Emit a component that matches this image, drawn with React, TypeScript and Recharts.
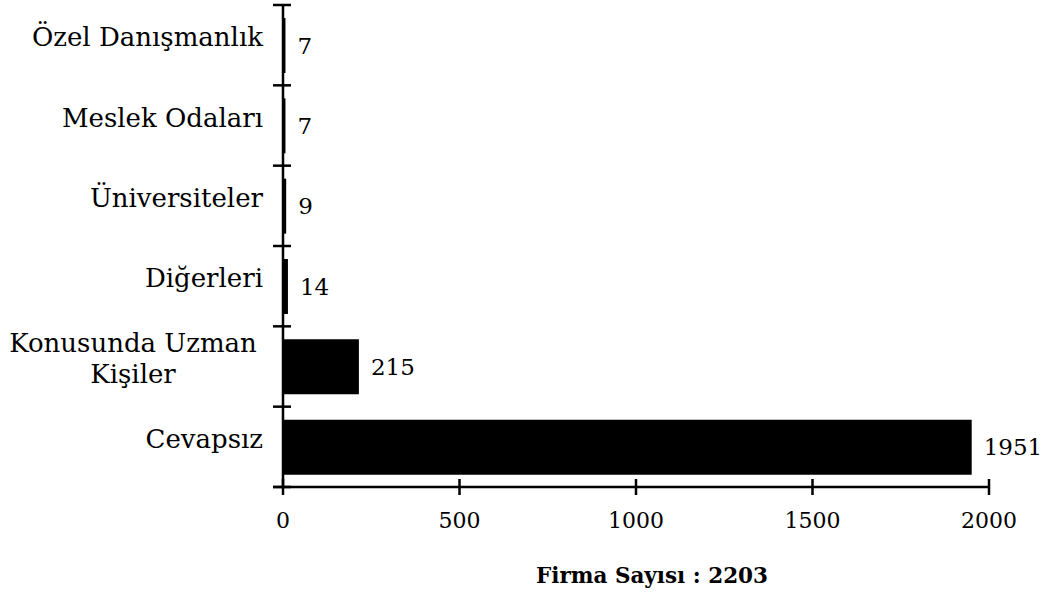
import { BarChart, Bar, XAxis, YAxis, LabelList, Label } from "recharts";

const categories = [
  "Özel Danışmanlık",
  "Meslek Odaları",
  "Üniversiteler",
  "Diğerleri",
  "Konusunda Uzman\nKişiler",
  "Cevapsız",
];
const counts = [7, 7, 9, 14, 215, 1951];
const xTicks = [0, 500, 1000, 1500, 2000];
const title = "Firma Sayısı : 2203";

const data = categories.map((name, i) => ({ name, count: counts[i] }));

const W = 1050;
const H = 592;
const margin = { top: 5, right: 61, left: 0, bottom: 0 };
const Y_WIDTH = 283;
const X_HEIGHT = 105;
const FONT = "'DejaVu Serif', serif";
const plotH = H - margin.top - margin.bottom - X_HEIGHT;
const halfBand = plotH / categories.length / 2;

function CategoryTick(props: any) {
  const { x, y, payload, index } = props;
  const axisX = x + 20;
  const lines = String(payload.value).split("\n");
  const multi = lines.length > 1;
  const tx = multi ? x - 130 : x;
  return (
    <g>
      <line x1={axisX - 10} x2={axisX + 8} y1={y - halfBand} y2={y - halfBand} stroke="#000" strokeWidth={2.5} />
      {index === categories.length - 1 && (
        <line x1={axisX - 10} x2={axisX + 8} y1={y + halfBand} y2={y + halfBand} stroke="#000" strokeWidth={2.5} />
      )}
      <text x={tx} y={y} textAnchor={multi ? "middle" : "end"} fontFamily={FONT} fontSize={26} fill="#000">
        {lines.map((l, i) => (
          <tspan key={i} x={tx} dy={i === 0 ? 7 - ((lines.length - 1) * 31) / 2 - 6 : 31}>
            {l}
          </tspan>
        ))}
      </text>
    </g>
  );
}

function ValueTick(props: any) {
  const { x, y, payload, index } = props;
  return (
    <g>
      <line x1={x} x2={x} y1={y - 8} y2={y + 8} stroke="#000" strokeWidth={2.5} />
      {index === 0 && <line x1={x - 10} x2={x} y1={y} y2={y} stroke="#000" strokeWidth={2.5} />}
      <text x={x} y={y + 41} textAnchor="middle" fontFamily={FONT} fontSize={22} fill="#000">
        {payload.value}
      </text>
    </g>
  );
}

export default function App() {
  return (
    <div style={{ position: "absolute", left: 0, top: 0, width: W, height: H, background: "#fff" }}>
      <BarChart width={W} height={H} data={data} layout="vertical" margin={margin}>
        <XAxis
          type="number"
          domain={[0, 2000]}
          ticks={xTicks}
          height={X_HEIGHT}
          tickSize={0}
          tickMargin={0}
          tickLine={false}
          axisLine={{ stroke: "#000", strokeWidth: 2.5 }}
          tick={<ValueTick />}
          interval={0}
        >
          <Label
            value={title}
            position="insideBottom"
            offset={9}
            dx={16}
            style={{ fontFamily: FONT, fontSize: 21.5, fontWeight: "bold", fill: "#000" }}
          />
        </XAxis>
        <YAxis
          type="category"
          dataKey="name"
          width={Y_WIDTH}
          tickSize={0}
          tickMargin={20}
          tickLine={false}
          axisLine={{ stroke: "#000", strokeWidth: 2.5 }}
          tick={<CategoryTick />}
          interval={0}
        />
        <Bar dataKey="count" fill="#000" barSize={55} isAnimationActive={false}>
          <LabelList
            dataKey="count"
            position="right"
            offset={12}
            style={{ fontFamily: FONT, fontSize: 23, fill: "#000" }}
          />
        </Bar>
      </BarChart>
    </div>
  );
}
